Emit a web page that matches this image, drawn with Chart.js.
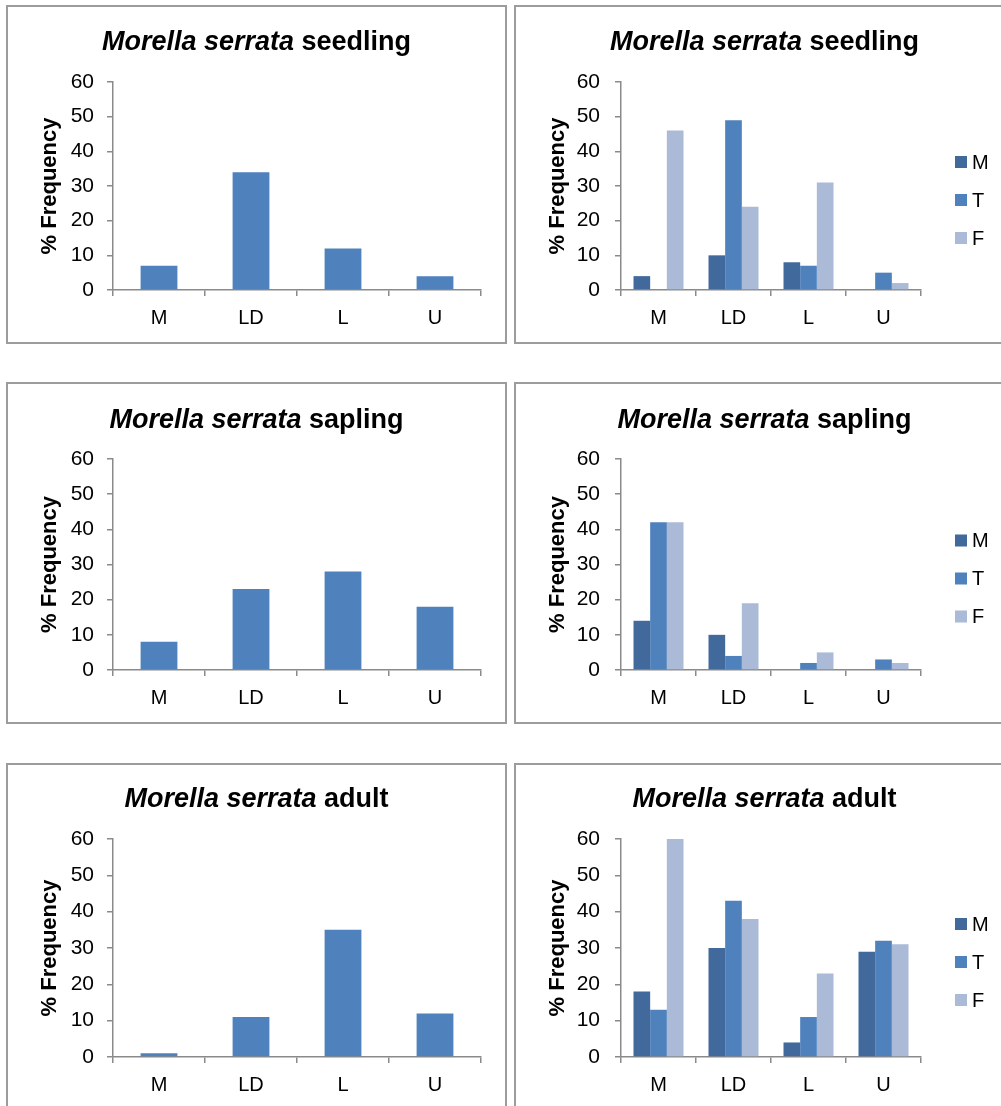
<!DOCTYPE html>
<html>
<head>
<meta charset="utf-8">
<title>Morella serrata frequency by site class</title>
<script src="https://cdn.jsdelivr.net/npm/chart.js@4/dist/chart.umd.min.js"></script>
<style>
  html, body { margin: 0; padding: 0; background: #fff; width: 1001px; height: 1106px; overflow: hidden; }
  .panel { position: absolute; }
  .panel canvas { position: absolute; left: 0; top: 0; }
  .frame { position: absolute; left: 0; top: 0; right: 0; bottom: 0; box-sizing: border-box;
           border: 2px solid #9c9c9c; pointer-events: none; }
</style>
</head>
<body>
<div id="root"></div>
<script>
// ---- data ----
const categories = ['M', 'LD', 'L', 'U'];
const yTickValues = [0, 10, 20, 30, 40, 50, 60];
const seriesNames = ['M', 'T', 'F'];
const speciesName = 'Morella serrata';
const stages = ['seedling', 'sapling', 'adult'];
const axisTitle = '% Frequency';

// overall frequency per class
const seedlingAll = [7, 34, 12, 4];
const saplingAll  = [8, 23, 28, 18];
const adultAll    = [1, 11, 35, 12];

// frequency split by series M / T / F
const seedlingM = [4, 10, 8, 0];
const seedlingT = [0, 49, 7, 5];
const seedlingF = [46, 24, 31, 2];

const saplingM = [14, 10, 0, 0];
const saplingT = [42, 4, 2, 3];
const saplingF = [42, 19, 5, 2];

const adultM = [18, 30, 4, 29];
const adultT = [13, 43, 11, 32];
const adultF = [60, 38, 23, 31];

// ---- styling ----
const FONT = "'Liberation Sans', Arial, Helvetica, sans-serif";
const AXIS = '#8a8a8a';
const singleColor = '#4F81BD';
const seriesColors = ['#41699C', '#4F81BD', '#AABAD7'];

// title with an italic species name followed by the stage in upright bold
const panelTitle = {
  id: 'panelTitle',
  afterDraw(chart, args, opts) {
    const ctx = chart.ctx;
    const size = opts.size;
    const first = opts.italic;
    const second = ' ' + opts.plain;
    ctx.save();
    ctx.font = `italic bold ${size}px ${FONT}`;
    const w1 = ctx.measureText(first).width;
    ctx.font = `bold ${size}px ${FONT}`;
    const w2 = ctx.measureText(second).width;
    const x0 = chart.width / 2 - (w1 + w2) / 2;
    const base = opts.y + size * 0.358;
    ctx.fillStyle = '#000';
    ctx.textAlign = 'left';
    ctx.textBaseline = 'alphabetic';
    ctx.font = `italic bold ${size}px ${FONT}`;
    ctx.fillText(first, x0, base);
    ctx.font = `bold ${size}px ${FONT}`;
    ctx.fillText(second, x0 + w1, base);
    ctx.restore();
  }
};

// series key drawn to the right of the plot area
const seriesKey = {
  id: 'seriesKey',
  afterDraw(chart, args, opts) {
    const { ctx, chartArea } = chart;
    const sets = chart.data.datasets;
    const mid = (chartArea.top + chartArea.bottom) / 2 + opts.shift;
    ctx.save();
    ctx.font = `${opts.size}px ${FONT}`;
    ctx.textAlign = 'left';
    ctx.textBaseline = 'middle';
    sets.forEach((ds, i) => {
      const cy = mid + (i - (sets.length - 1) / 2) * opts.spacing;
      ctx.fillStyle = ds.backgroundColor;
      ctx.fillRect(opts.x, cy - 6, 12, 12);
      ctx.fillStyle = '#000';
      ctx.fillText(ds.label, opts.x + 17, cy + 1);
    });
    ctx.restore();
  }
};

// ---- layout of the six panels ----
const rowTop = [5, 382, 763];
const rowHeight = [339, 342, 360];
const rowPadTop = [77, 77, 76];
const rowPadBottom = [14, 14, 26];
const rowTitleY = [35, 36, 34];
const colLeft = [6, 514];
const colPadRight = [26, 94];
const PANEL_W = 501;

function makePanel(row, col, datasets, withKey) {
  const wrap = document.createElement('div');
  wrap.className = 'panel';
  wrap.style.left = colLeft[col] + 'px';
  wrap.style.top = rowTop[row] + 'px';
  wrap.style.width = PANEL_W + 'px';
  wrap.style.height = rowHeight[row] + 'px';
  const canvas = document.createElement('canvas');
  canvas.width = PANEL_W;
  canvas.height = rowHeight[row];
  canvas.style.width = PANEL_W + 'px';
  canvas.style.height = rowHeight[row] + 'px';
  wrap.appendChild(canvas);
  const frame = document.createElement('div');
  frame.className = 'frame';
  wrap.appendChild(frame);
  document.getElementById('root').appendChild(wrap);

  const pluginOpts = {
    legend: { display: false },
    tooltip: { enabled: false },
    title: { display: false },
    panelTitle: { italic: speciesName, plain: stages[row], size: 27, y: rowTitleY[row] }
  };
  if (withKey) {
    pluginOpts.seriesKey = { x: 441, shift: 14, spacing: 38, size: 20 };
  }

  return new Chart(canvas, {
    type: 'bar',
    data: { labels: categories, datasets },
    options: {
      responsive: false,
      animation: false,
      devicePixelRatio: 1,
      layout: { padding: { left: 0, top: rowPadTop[row], right: colPadRight[col], bottom: rowPadBottom[row] } },
      plugins: pluginOpts,
      scales: {
        x: {
          grid: { offset: true, drawOnChartArea: false, tickLength: 6, color: AXIS, lineWidth: 1.5 },
          border: { display: true, color: AXIS, width: 1.5 },
          ticks: { padding: 10, color: '#000', font: { family: FONT, size: 20 } },
          afterFit(scale) { scale.height = 40; }
        },
        y: {
          min: yTickValues[0],
          max: yTickValues[yTickValues.length - 1],
          grid: { drawOnChartArea: false, tickLength: 6, color: AXIS, lineWidth: 1.5 },
          border: { display: true, color: AXIS, width: 1.5 },
          ticks: {
            stepSize: yTickValues[1] - yTickValues[0],
            padding: col === 0 ? 13 : 15,
            color: '#000',
            font: { family: FONT, size: 21 }
          },
          title: {
            display: true,
            text: axisTitle,
            color: '#000',
            font: { family: FONT, size: 22, weight: 'bold' },
            padding: { top: 31, bottom: 0 }
          },
          afterFit(scale) { scale.width = 107; }
        }
      }
    },
    plugins: withKey ? [panelTitle, seriesKey] : [panelTitle]
  });
}

function singleSet(values) {
  return [{
    label: axisTitle,
    data: values,
    backgroundColor: singleColor,
    borderWidth: 0,
    categoryPercentage: 1,
    barPercentage: 0.4
  }];
}

function splitSets(m, t, f) {
  return [m, t, f].map((values, i) => ({
    label: seriesNames[i],
    data: values,
    backgroundColor: seriesColors[i],
    borderWidth: 0,
    categoryPercentage: 2 / 3,
    barPercentage: 1
  }));
}

makePanel(0, 0, singleSet(seedlingAll), false);
makePanel(0, 1, splitSets(seedlingM, seedlingT, seedlingF), true);
makePanel(1, 0, singleSet(saplingAll), false);
makePanel(1, 1, splitSets(saplingM, saplingT, saplingF), true);
makePanel(2, 0, singleSet(adultAll), false);
makePanel(2, 1, splitSets(adultM, adultT, adultF), true);
</script>
</body>
</html>
